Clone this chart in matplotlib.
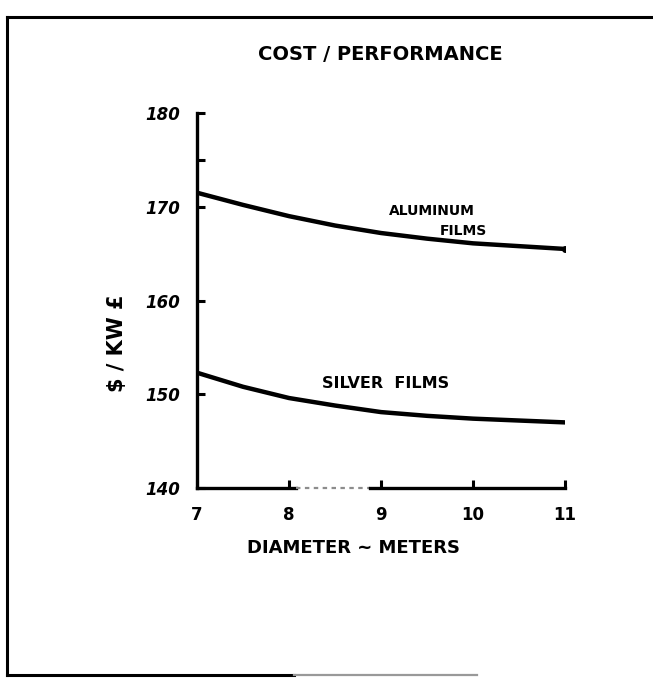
import matplotlib
matplotlib.use("Agg")
import matplotlib.pyplot as plt
from matplotlib.lines import Line2D

# diameter (m) vs cost per kW for the two reflector films
diameter = [7, 7.5, 8, 8.5, 9, 9.5, 10, 10.5, 11]
aluminum_films = [171.5, 170.2, 169.0, 168.0, 167.2, 166.6, 166.1, 165.8, 165.5]
silver_films = [152.3, 150.8, 149.6, 148.8, 148.1, 147.7, 147.4, 147.2, 147.0]

x_ticks = [7, 8, 9, 10, 11]
y_ticks = [140, 150, 160, 170, 180]
y_tick_labels = ["140", "150", "160", "170", "180"]

fig = plt.figure(figsize=(6.53, 6.78), dpi=100)
ax = fig.add_axes([0.3017, 0.2802, 0.5636, 0.5531])

ax.plot(diameter, aluminum_films, color="black", lw=3.2, solid_capstyle="round")
ax.plot(diameter, silver_films, color="black", lw=3.2, solid_capstyle="round")
ax.plot([diameter[-1]], [aluminum_films[-1]], "o", color="black", ms=4)

ax.set_xlim(7, 11)
ax.set_ylim(140, 180)
ax.set_xticks(x_ticks)
ax.set_xticklabels([str(v) for v in x_ticks], fontweight="bold")
ax.set_yticks(y_ticks)
ax.set_yticklabels(y_tick_labels, fontstyle="italic", fontweight="bold")
ax.set_yticks([175], minor=True)
for s in ["top", "right", "bottom"]:
    ax.spines[s].set_visible(False)
ax.spines["left"].set_linewidth(2.4)

# x axis drawn by hand: pencil gets faint between 8 and 9
ax.plot([0, 0.27], [0, 0], transform=ax.transAxes, color="black", lw=2.4,
        clip_on=False)
ax.plot([0.27, 0.47], [0, 0], transform=ax.transAxes, color="0.55", lw=1.6,
        ls=(0, (2, 2)), clip_on=False)
ax.plot([0.47, 1.0], [0, 0], transform=ax.transAxes, color="black", lw=2.4,
        clip_on=False)

ax.tick_params(axis="both", which="both", direction="in", width=2.2, length=6,
               labelsize=12)
ax.tick_params(axis="y", pad=12)
ax.tick_params(axis="x", pad=13)

ax.text(9.55, 169.6, "ALUMINUM", fontsize=10, fontweight="bold",
        ha="center", va="center")
ax.text(9.9, 167.4, "FILMS", fontsize=10, fontweight="bold",
        ha="center", va="center")
ax.text(9.05, 151.2, "SILVER  FILMS", fontsize=11.5, fontweight="bold",
        ha="center", va="center")

fig.text(0.582, 0.919, "COST / PERFORMANCE", fontsize=14, fontweight="bold",
         ha="center", va="center")
fig.text(0.541, 0.192, "DIAMETER ~ METERS", fontsize=13, fontweight="bold",
         ha="center", va="center")
fig.text(0.179, 0.493, r"\$ / KW £", fontsize=15, fontweight="bold", rotation=90,
         ha="center", va="center")

# hand-drawn border around the sheet
left, top, bottom = 7 / 653, 1 - 17 / 678, 1 - 675 / 678
fig.add_artist(Line2D([left, left], [bottom, top], color="black", lw=2.2))
fig.add_artist(Line2D([left, 1.0], [top, top], color="black", lw=2.2))
fig.add_artist(Line2D([left, 0.45], [bottom, bottom], color="black", lw=2.2))
fig.add_artist(Line2D([0.45, 0.73], [bottom, bottom], color="0.6", lw=1.6))

fig.savefig("out.png", dpi=100)
